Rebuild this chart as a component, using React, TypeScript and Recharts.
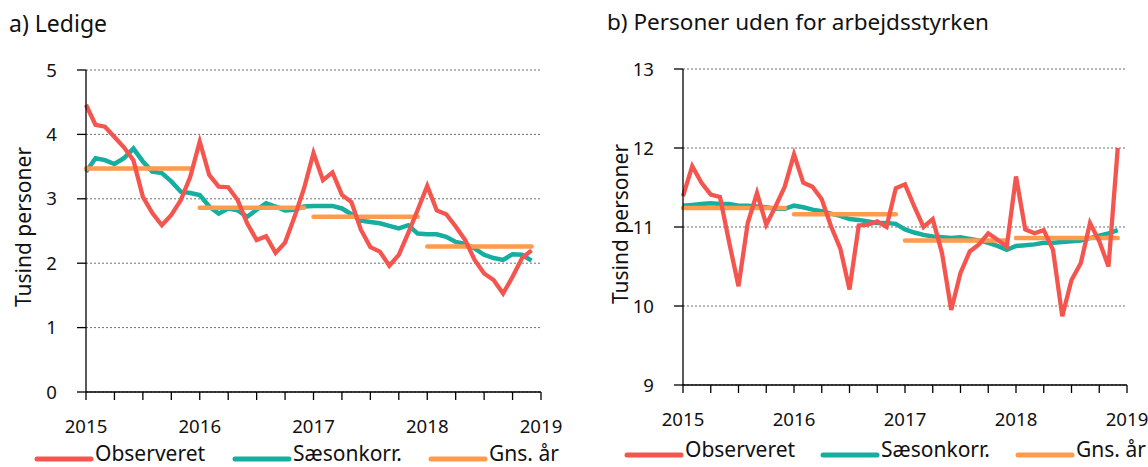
import { LineChart, Line, XAxis, YAxis, CartesianGrid } from 'recharts'

// Monthly values, Jan 2015 - Dec 2018
const years = [2015, 2016, 2017, 2018]

const ledigeObserved = [
  4.46, 4.15, 4.12, 3.96, 3.8, 3.6, 3.03, 2.78, 2.59, 2.75, 2.98, 3.34,
  3.89, 3.37, 3.19, 3.18, 2.98, 2.62, 2.36, 2.42, 2.16, 2.32, 2.72, 3.16,
  3.71, 3.29, 3.41, 3.06, 2.95, 2.52, 2.25, 2.18, 1.96, 2.13, 2.47, 2.83,
  3.2, 2.82, 2.76, 2.57, 2.36, 2.05, 1.84, 1.74, 1.53, 1.79, 2.08, 2.2,
]
const ledigeSeason = [
  3.42, 3.63, 3.6, 3.54, 3.63, 3.78, 3.58, 3.42, 3.4, 3.27, 3.11, 3.09,
  3.06, 2.88, 2.77, 2.85, 2.82, 2.72, 2.83, 2.93, 2.88, 2.82, 2.83, 2.88,
  2.89, 2.89, 2.89, 2.85, 2.76, 2.66, 2.64, 2.62, 2.58, 2.54, 2.59, 2.46,
  2.45, 2.45, 2.41, 2.33, 2.3, 2.23, 2.13, 2.08, 2.05, 2.14, 2.13, 2.04,
]
const ledigeAvg = [3.47, 2.86, 2.72, 2.26]

const udenObserved = [
  11.39, 11.77, 11.56, 11.41, 11.38, 10.8, 10.25, 11.05, 11.43, 11.03, 11.26, 11.51,
  11.92, 11.56, 11.51, 11.35, 11.01, 10.73, 10.21, 11.02, 11.03, 11.07, 11.0, 11.49,
  11.54, 11.26, 11.0, 11.1, 10.67, 9.95, 10.42, 10.69, 10.78, 10.92, 10.84, 10.75,
  11.64, 10.97, 10.92, 10.96, 10.71, 9.87, 10.33, 10.54, 11.05, 10.82, 10.5, 12.0,
]
const udenSeason = [
  11.27, 11.28, 11.29, 11.3, 11.29, 11.29, 11.27, 11.27, 11.26, 11.25, 11.23, 11.23,
  11.27, 11.25, 11.22, 11.2, 11.17, 11.14, 11.1, 11.09, 11.07, 11.05, 11.05, 11.04,
  10.97, 10.93, 10.9, 10.88, 10.87, 10.86, 10.87, 10.85, 10.83, 10.8, 10.76, 10.71,
  10.76, 10.77, 10.78, 10.8, 10.8, 10.81, 10.82, 10.83, 10.86, 10.89, 10.92, 10.96,
]
const udenAvg = [11.24, 11.16, 10.83, 10.86]

const ledigeTicks = [0, 1, 2, 3, 4, 5]
const udenTicks = [9, 10, 11, 12, 13]
const xTicks = [2015, 2015.25, 2015.5, 2015.75, 2016, 2016.25, 2016.5, 2016.75, 2017,
  2017.25, 2017.5, 2017.75, 2018, 2018.25, 2018.5, 2018.75, 2019]

const RED = '#f4564f'
const TEAL = '#16ae9f'
const ORANGE = '#ff9b4d'
const FONT = '"Noto Sans", "Open Sans", sans-serif'

function buildRows(obs: number[], sa: number[], avg: number[]) {
  return obs.map((v, i) => {
    const y = Math.floor(i / 12)
    const row: any = { t: years[y] + (i % 12) / 12, obs: v, sa: sa[i] }
    avg.forEach((a, k) => {
      row['avg' + k] = k === y ? a : undefined
    })
    return row
  })
}

interface PanelProps {
  rows: any[]
  ticks: number[]
  left: number
  width: number
  margin: { top: number; right: number; bottom: number; left: number }
  yWidth: number
}

function Panel({ rows, ticks, left, width, margin, yWidth }: PanelProps) {
  const tickStyle = { fontSize: 18.6, fill: '#111', fontFamily: FONT }
  return (
    <div style={{ position: 'absolute', left, top: 0 }}>
      <LineChart width={width} height={467} data={rows} margin={margin}>
        <CartesianGrid vertical={false} stroke="#6f6f6f" strokeDasharray="2 2" strokeWidth={1} />
        <XAxis
          dataKey="t"
          type="number"
          domain={[2015, 2019]}
          ticks={xTicks}
          interval={0}
          tickFormatter={(v: number) => (Number.isInteger(v) ? String(v) : '')}
          tick={tickStyle}
          tickSize={8}
          tickMargin={20}
          height={40}
          axisLine={{ stroke: '#000', strokeWidth: 1.3 }}
          tickLine={{ stroke: '#000', strokeWidth: 1.3 }}
        />
        <YAxis
          domain={[ticks[0], ticks[ticks.length - 1]]}
          ticks={ticks}
          interval={0}
          width={yWidth}
          tick={tickStyle}
          tickSize={9}
          tickMargin={20}
          axisLine={{ stroke: '#000', strokeWidth: 1.3 }}
          tickLine={{ stroke: '#000', strokeWidth: 1.3 }}
        />
        <Line dataKey="sa" stroke={TEAL} strokeWidth={4.5} dot={false} isAnimationActive={false} />
        {[0, 1, 2, 3].map((k) => (
          <Line
            key={k}
            dataKey={'avg' + k}
            stroke={ORANGE}
            strokeWidth={4.5}
            strokeLinecap="round"
            dot={false}
            isAnimationActive={false}
          />
        ))}
        <Line dataKey="obs" stroke={RED} strokeWidth={4.3} dot={false} isAnimationActive={false} />
      </LineChart>
    </div>
  )
}

function Legend({ x0, y, items }: { x0: number[]; y: number; items: { label: string; color: string }[] }) {
  return (
    <>
      {items.map((it, i) => (
        <g key={it.label}>
          <line x1={x0[i]} x2={x0[i] + 54} y1={y} y2={y} stroke={it.color} strokeWidth={5} strokeLinecap="round" />
          <text x={x0[i] + 58} y={y + 2} fontSize={21} fill="#111" fontFamily={FONT}>{it.label}</text>
        </g>
      ))}
    </>
  )
}

const legendItems = [
  { label: 'Observeret', color: RED },
  { label: 'Sæsonkorr.', color: TEAL },
  { label: 'Gns. år', color: ORANGE },
]

export default function App() {
  const ledigeRows = buildRows(ledigeObserved, ledigeSeason, ledigeAvg)
  const udenRows = buildRows(udenObserved, udenSeason, udenAvg)
  return (
    <div style={{ position: 'absolute', left: 0, top: 0, width: 1148, height: 467, background: '#fff', fontFamily: FONT }}>
      <Panel
        rows={ledigeRows}
        ticks={ledigeTicks}
        left={0}
        width={580}
        yWidth={30}
        margin={{ top: 70, right: 39, bottom: 35, left: 56 }}
      />
      <Panel
        rows={udenRows}
        ticks={udenTicks}
        left={580}
        width={568}
        yWidth={40}
        margin={{ top: 69, right: 21, bottom: 42, left: 63 }}
      />
      <svg width={1148} height={467} style={{ position: 'absolute', left: 0, top: 0, pointerEvents: 'none' }}>
        <text x={9} y={31.5} fontSize={23} fill="#111" fontFamily={FONT}>a) Ledige</text>
        <text x={607} y={30} fontSize={22.5} fill="#111" fontFamily={FONT}>b) Personer uden for arbejdsstyrken</text>
        <text x={31} y={227} fontSize={21} fill="#111" fontFamily={FONT} textAnchor="middle" transform="rotate(-90, 31, 227)">
          Tusind personer
        </text>
        <text x={628} y={224} fontSize={21} fill="#111" fontFamily={FONT} textAnchor="middle" transform="rotate(-90, 628, 224)">
          Tusind personer
        </text>
        <Legend x0={[37, 235, 431]} y={459} items={legendItems} />
        <Legend x0={[627, 823, 1018]} y={455} items={legendItems} />
      </svg>
    </div>
  )
}
